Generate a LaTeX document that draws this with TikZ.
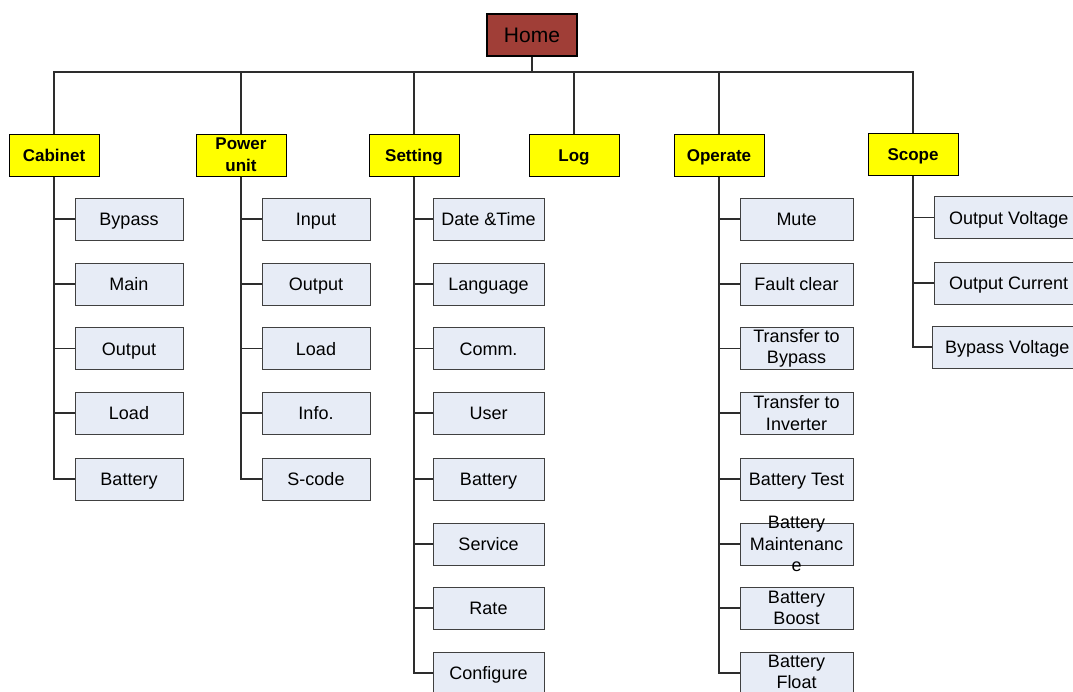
\documentclass[tikz,border=0pt]{standalone}
\usepackage{fontspec}
\setmainfont{Liberation Sans}
\definecolor{homered}{RGB}{160,62,55}
\definecolor{catyellow}{RGB}{255,255,0}
\definecolor{childblue}{RGB}{231,236,246}
\definecolor{linegray}{RGB}{45,45,45}
\begin{document}
\begin{tikzpicture}[x=1pt,y=-1pt,
 homebox/.style={draw=black, fill=homered, line width=1.2pt, minimum width=90pt, minimum height=42pt, inner sep=0pt, text height=15pt, text depth=0pt, font=\fontsize{21}{24}\selectfont},
 catbox/.style={draw=black, fill=catyellow, line width=1pt, minimum width=90pt, minimum height=42pt, inner sep=0pt, align=center, font=\fontsize{17}{22}\selectfont\bfseries},
 childbox/.style={draw=black!75, fill=childblue, line width=1pt, minimum width=#1, minimum height=42pt, inner sep=0pt, align=center, font=\fontsize{18}{21.5}\selectfont},
 childbox/.default=110pt,
 one/.style={text height=13pt, text depth=0pt},
 overtext/.style={align=center, inner sep=0pt, font=\fontsize{18}{21.5}\selectfont},
 conn/.style={draw=linegray, line width=1.3pt}]
\useasboundingbox (0,0) rectangle (1073,691);
\clip (0,0) rectangle (1073,691);

% Home and categories
\node[homebox] (home) at (532,35) {Home};
\coordinate (bus) at (532,72);
\node[catbox, one] (cab) at (54,155) {Cabinet};
\node[catbox] (pow) at (241,155) {Power\\unit};
\node[catbox, one] (set) at (414,155) {Setting};
\node[catbox, one] (log) at (574,155) {Log};
\node[catbox, one] (ope) at (719,155) {Operate};
\node[catbox, one] (sco) at (913,154) {Scope};

% Cabinet children
\node[childbox=108pt, one] (cab1) at (129,219) {Bypass};
\node[childbox=108pt, one] (cab2) at (129,284) {Main};
\node[childbox=108pt, one] (cab3) at (129,348.5) {Output};
\node[childbox=108pt, one] (cab4) at (129,413) {Load};
\node[childbox=108pt, one] (cab5) at (129,479) {Battery};

% Power unit children
\node[childbox=108pt, one] (pow1) at (316,219) {Input};
\node[childbox=108pt, one] (pow2) at (316,284) {Output};
\node[childbox=108pt, one] (pow3) at (316,348.5) {Load};
\node[childbox=108pt, one] (pow4) at (316,413) {Info.};
\node[childbox=108pt, one] (pow5) at (316,479) {S-code};

% Setting children
\node[childbox=111pt, one] (set1) at (488.5,219) {Date \&Time};
\node[childbox=111pt, one] (set2) at (488.5,284) {Language};
\node[childbox=111pt, one] (set3) at (488.5,348.5) {Comm.};
\node[childbox=111pt, one] (set4) at (488.5,413) {User};
\node[childbox=111pt, one] (set5) at (488.5,479) {Battery};
\node[childbox=111pt, one] (set6) at (488.5,544) {Service};
\node[childbox=111pt, one] (set7) at (488.5,608) {Rate};
\node[childbox=111pt, one] (set8) at (488.5,673) {Configure};

% Operate children
\node[childbox=113pt, one] (ope1) at (796.5,219) {Mute};
\node[childbox=113pt, one] (ope2) at (796.5,284) {Fault clear};
\node[childbox=113pt] (ope3) at (796.5,348.5) {Transfer to\\Bypass};
\node[childbox=113pt] (ope4) at (796.5,413) {Transfer to\\Inverter};
\node[childbox=113pt, one] (ope5) at (796.5,479) {Battery Test};
\node[childbox=113pt] (ope6) at (796.5,544) {};
\node[overtext] at (ope6.center) {Battery\\Maintenanc\\e};
\node[childbox=113pt] (ope7) at (796.5,608) {Battery\\Boost};
\node[childbox=113pt] (ope8) at (796.5,673) {};
\node[overtext] at (796.5,672) {Battery\\Float};

% Scope children
\node[childbox=150pt] (sco1) at (1009,217.5) {};
\node[overtext, one, anchor=west] at (949,217.5) {Output Voltage};
\node[childbox=150pt] (sco2) at (1009,283) {};
\node[overtext, one, anchor=west] at (949,283) {Output Current};
\node[childbox=150pt] (sco3) at (1007,347) {};
\node[overtext, one, anchor=west] at (945,347) {Bypass Voltage};

% Connectors
\draw[conn] (home) -- (bus);
\foreach \c in {cab,pow,set,log,ope,sco}{
  \draw[conn] (bus) -| (\c.north);
}
\foreach \i in {1,...,5}{
  \draw[conn] (cab.south) |- (cab\i.west);
  \draw[conn] (pow.south) |- (pow\i.west);
}
\foreach \i in {1,...,8}{
  \draw[conn] (set.south) |- (set\i.west);
  \draw[conn] (ope.south) |- (ope\i.west);
}
\foreach \i in {1,...,3}{
  \draw[conn] (sco.south) |- (sco\i.west);
}
\end{tikzpicture}
\end{document}
